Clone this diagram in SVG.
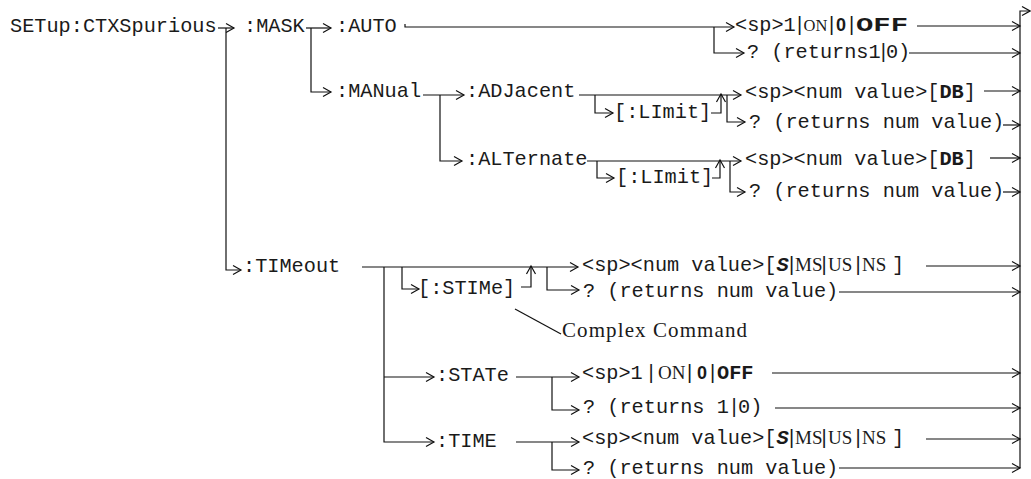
<svg xmlns="http://www.w3.org/2000/svg" width="1031" height="479" viewBox="0 0 1031 479">
<style>
.t{font-family:"Liberation Mono","Courier New",monospace;font-size:20.25px;fill:#1a1a1a}
.b{font-weight:bold}
.bi{font-weight:bold;font-style:italic}
.sf{font-family:"Liberation Serif","Times New Roman",serif;font-size:19px}
.bar{font-family:"Liberation Sans",Arial,sans-serif;font-size:20px}
.bs{font-family:"Liberation Sans",Arial,sans-serif;font-weight:bold;font-size:18px}
.cc{font-family:"Liberation Serif","Times New Roman",serif;font-size:21px;fill:#1a1a1a}
.c{stroke:#111;stroke-width:1.2;fill:none}
.a{marker-end:url(#ah)}
</style>
<defs>
<marker id="ah" viewBox="-10 -6 12 12" refX="0" refY="0" markerWidth="12" markerHeight="12" markerUnits="userSpaceOnUse" orient="auto">
<path d="M-8,-4.5 L0,0 L-8,4.5" fill="none" stroke="#111" stroke-width="1.2"/>
</marker>
</defs>
<rect width="1031" height="479" fill="#fff"/>

<g id="connectors">
<path class="c a" d="M218 28 H234"/>
<path class="c a" d="M226 28 V270 H241"/>
<path class="c a" d="M306 28 H331"/>
<path class="c a" d="M311 28 V92 H331"/>
<path class="c a" d="M405 24 V27 H734"/>
<path class="c a" d="M714 27 V53 H744"/>
<path class="c a" d="M917 26 H1020"/>
<path class="c a" d="M909 53 H1020"/>
<path class="c a" d="M423 95 H464"/>
<path class="c a" d="M440 95 V161 H462"/>
<path class="c a" d="M579 95 H741"/>
<path class="c a" d="M595 95 V113 H613"/>
<path class="c a" d="M711 113 H721 V94"/>
<path class="c a" d="M727 95 V122 H745"/>
<path class="c a" d="M984 91 H1020"/>
<path class="c a" d="M1003 125 H1020"/>
<path class="c a" d="M587 161 H741"/>
<path class="c a" d="M597 161 V178 H614"/>
<path class="c a" d="M712 178 H720 V160"/>
<path class="c a" d="M730 161 V192 H745"/>
<path class="c a" d="M990 158 H1020"/>
<path class="c a" d="M1003 192 H1020"/>
<path class="c a" d="M362 267 H578"/>
<path class="c a" d="M402 267 V289 H419"/>
<path class="c a" d="M521 287 H531 V266"/>
<path class="c a" d="M547 267 V290 H579"/>
<path class="c a" d="M384 267 V442 H434"/>
<path class="c a" d="M384 377 H434"/>
<path class="c a" d="M926 266 H1020"/>
<path class="c a" d="M839 292 H1020"/>
<path class="c" d="M515 309 L561 334"/>
<path class="c a" d="M516 377 H579"/>
<path class="c a" d="M552 377 V410 H579"/>
<path class="c a" d="M772 373 H1020"/>
<path class="c a" d="M775 408 H1020"/>
<path class="c a" d="M516 442 H579"/>
<path class="c a" d="M552 442 V470 H579"/>
<path class="c a" d="M926 439 H1020"/>
<path class="c a" d="M839 468 H1020"/>
<path class="c a" d="M1020 468 V11 H1030"/>
</g>

<g id="setup"><text class="t" x="10" y="32">SETup:CTXSpurious</text></g>
<g id="mask"><text class="t" x="244" y="32">:MASK</text></g>
<g id="auto"><text class="t" x="336" y="32">:AUTO</text></g>
<g id="auto-set">
<text class="t" y="31"><tspan x="735">&lt;sp&gt;1</tspan><tspan class="bar" x="797">|</tspan></text>
<text class="t sf" x="803.5" y="31" style="font-size:16.5px">ON</text>
<text class="t" y="31"><tspan class="bar" x="829">|</tspan><tspan class="bs" x="836">0</tspan><tspan class="bar" x="849">|</tspan></text>
<text class="t b" x="856" y="31" textLength="52" lengthAdjust="spacingAndGlyphs">OFF</text>
</g>
<g id="auto-query"><text class="t" y="58"><tspan x="747">? (returns1</tspan><tspan class="bar">|</tspan><tspan>0)</tspan></text></g>
<g id="manual"><text class="t" x="336" y="97">:MANual</text></g>
<g id="adjacent"><text class="t" x="466" y="97">:ADJacent</text></g>
<g id="adj-limit"><text class="t" x="614" y="118">[:LImit]</text></g>
<g id="adj-set"><text class="t" x="745" y="98">&lt;sp&gt;&lt;num value&gt;[<tspan class="b">DB</tspan>]</text></g>
<g id="adj-query"><text class="t" x="749" y="128">? (returns num value)</text></g>
<g id="alternate"><text class="t" x="466" y="165">:ALTernate</text></g>
<g id="alt-limit"><text class="t" x="616" y="183">[:LImit]</text></g>
<g id="alt-set"><text class="t" x="745" y="165">&lt;sp&gt;&lt;num value&gt;[<tspan class="b">DB</tspan>]</text></g>
<g id="alt-query"><text class="t" x="749" y="197">? (returns num value)</text></g>
<g id="timeout"><text class="t" x="243" y="272">:TIMeout</text></g>
<g id="stime"><text class="t" x="418" y="294">[:STIMe]</text></g>
<g id="stime-set">
<text class="t" y="271"><tspan x="582">&lt;sp&gt;&lt;num value&gt;[</tspan><tspan class="bi" x="776.5">S</tspan><tspan class="bar" x="789">|</tspan><tspan class="sf" x="795">MS</tspan><tspan class="bar" x="821.5">|</tspan><tspan class="sf" x="828">US</tspan><tspan class="bar" x="855.5">|</tspan><tspan class="sf" x="862">NS</tspan><tspan x="892">]</tspan></text>
</g>
<g id="stime-query"><text class="t" x="583" y="297">? (returns num value)</text></g>
<g id="complex"><text class="cc" x="562" y="337" textLength="185" lengthAdjust="spacing">Complex Command</text></g>
<g id="state"><text class="t" x="436" y="381">:STATe</text></g>
<g id="state-set">
<text class="t" y="379"><tspan x="582">&lt;sp&gt;1</tspan><tspan class="bar" x="648.5">|</tspan><tspan class="sf" x="658">ON</tspan><tspan class="bar" x="687">|</tspan><tspan class="bs" x="697">0</tspan><tspan class="bar" x="710">|</tspan><tspan class="b" x="717">OFF</tspan></text>
</g>
<g id="state-query"><text class="t" y="413"><tspan x="583">? (returns 1</tspan><tspan class="bar" x="731.5">|</tspan><tspan x="738">0)</tspan></text></g>
<g id="time"><text class="t" x="436" y="447">:TIME</text></g>
<g id="time-set">
<text class="t" y="444"><tspan x="582">&lt;sp&gt;&lt;num value&gt;[</tspan><tspan class="bi" x="776.5">S</tspan><tspan class="bar" x="789">|</tspan><tspan class="sf" x="795">MS</tspan><tspan class="bar" x="821.5">|</tspan><tspan class="sf" x="828">US</tspan><tspan class="bar" x="855.5">|</tspan><tspan class="sf" x="862">NS</tspan><tspan x="892">]</tspan></text>
</g>
<g id="time-query"><text class="t" x="583" y="474">? (returns num value)</text></g>
</svg>
